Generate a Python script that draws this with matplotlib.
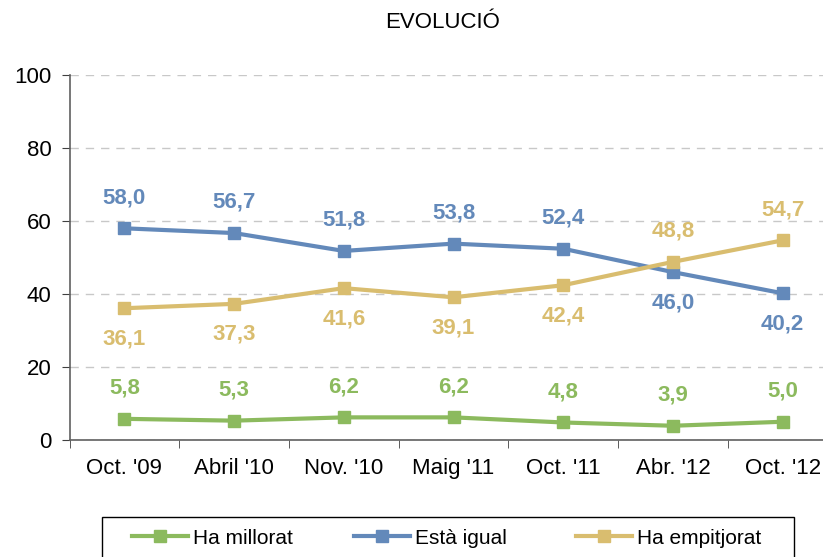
import matplotlib.pyplot as plt
from matplotlib.patches import Rectangle
from matplotlib.lines import Line2D
import numpy as np

plt.rcParams['font.family'] = ['Liberation Sans', 'DejaVu Sans']

categories = ["Oct. '09", "Abril '10", "Nov. '10", "Maig '11", "Oct. '11", "Abr. '12", "Oct. '12"]
millorat = [5.8, 5.3, 6.2, 6.2, 4.8, 3.9, 5.0]
igual = [58.0, 56.7, 51.8, 53.8, 52.4, 46.0, 40.2]
empitjorat = [36.1, 37.3, 41.6, 39.1, 42.4, 48.8, 54.7]

# label placement: +1 above, -1 below
pos_millorat = [1, 1, 1, 1, 1, 1, 1]
pos_igual = [1, 1, 1, 1, 1, -1, -1]
pos_empitjorat = [-1, -1, -1, -1, -1, 1, 1]

c_green = '#8cba5e'
c_blue = '#6389ba'
c_yellow = '#d9bd6f'

W, H = 823, 557
fig = plt.figure(figsize=(W / 100, H / 100), dpi=100)
ax = fig.add_axes([69.5 / W, (H - 440) / H, 768 / W, 365 / H])

x = np.arange(len(categories))
series = [
    ('Ha millorat', millorat, pos_millorat, c_green),
    ('Està igual', igual, pos_igual, c_blue),
    ('Ha empitjorat', empitjorat, pos_empitjorat, c_yellow),
]
for name, vals, pos, col in series:
    ax.plot(x, vals, color=col, lw=3, marker='s', ms=9, zorder=3)
    for xi, v, p in zip(x, vals, pos):
        ax.annotate(f"{v:.1f}".replace('.', ','), (xi, v), xytext=(0, 22 * p),
                    textcoords='offset points', ha='center', va='center',
                    color=col, fontsize=16, fontweight='bold')

ax.set_xlim(-0.5, 6.5)
ax.set_ylim(0, 100)
ax.set_yticks([0, 20, 40, 60, 80, 100])
ax.set_xticks(x)
ax.set_xticklabels(categories)
ax.set_xticks(np.arange(-0.5, 7, 1), minor=True)
ax.tick_params(axis='x', which='major', length=0, pad=13, labelsize=16)
ax.tick_params(axis='x', which='minor', length=6, color='#404040', direction='out')
ax.tick_params(axis='y', length=6, color='#404040', labelsize=16, pad=7)
ax.grid(axis='y', color='#c8c8c8', ls=(0, (6, 5)), lw=1)
for s in ['top', 'right']:
    ax.spines[s].set_visible(False)
for s in ['left', 'bottom']:
    ax.spines[s].set_color('#606060')
    ax.spines[s].set_linewidth(1.2)

fig.text(443 / W, 1 - 22 / H, 'EVOLUCIÓ', ha='center', va='center', fontsize=16)

# legend box (cut off at the bottom like the original)
fig.patches.append(Rectangle((102 / W, -0.05), 692 / W, 0.05 + 1 - 517 / H,
                             transform=fig.transFigure, fill=False,
                             edgecolor='black', lw=1))
for (name, vals, pos, col), lx in zip(series, [132, 354, 576]):
    h = Line2D([], [], color=col, lw=3, marker='s', ms=8)
    fig.legend([h], [name], loc='center left', bbox_to_anchor=(lx / W, 1 - 538 / H),
               frameon=False, fontsize=15, borderpad=0, borderaxespad=0,
               handlelength=2.7, handletextpad=0.25)

fig.savefig('out.png', dpi=100)
